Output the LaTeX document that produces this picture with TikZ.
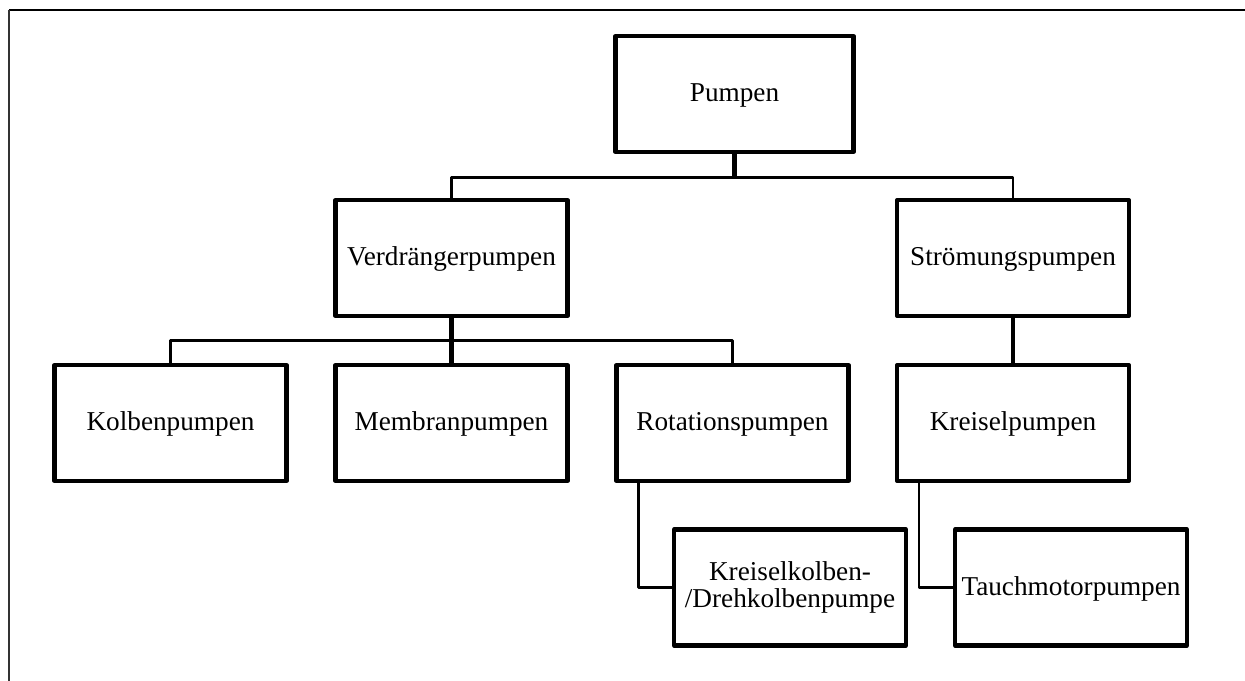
\documentclass[tikz,border=0pt]{standalone}
\usepackage{fontspec}
\setmainfont{Liberation Serif}
\usetikzlibrary{calc}

\begin{document}
\begin{tikzpicture}[
    boxbase/.style={draw, line width=2.3pt, line join=round, minimum width=4.64cm, minimum height=2.32cm,
        inner sep=0pt, align=center, font=\fontsize{15.5}{15.5}\selectfont},
    box/.style={boxbase, text height=0.9em, text depth=0pt},
    bus/.style={line width=1.2pt, line join=round},
    trunk/.style={line width=2.3pt}]
    \useasboundingbox (0,0) rectangle (24.9,-13.62);
    % frame
    \draw[line width=1.2pt] (0.18,-0.2) -- (24.9,-0.2);
    \draw[line width=0.9pt, black!80] (0.18,-0.2) -- (0.18,-13.62);
    % boxes
    \node[box, minimum width=4.76cm] (pumpen) at (14.69,-1.88) {Pumpen};
    \node[box] (verd) at (9.03,-5.16) {Verdrängerpumpen};
    \node[box] (stroem) at (20.26,-5.16) {Strömungspumpen};
    \node[box] (kolben) at (3.41,-8.46) {Kolbenpumpen};
    \node[box] (membran) at (9.03,-8.46) {Membranpumpen};
    \node[box] (rotation) at (14.65,-8.46) {Rotationspumpen};
    \node[box] (kreisel) at (20.26,-8.46) {Kreiselpumpen};
    \node[boxbase] (drehkolben) at (15.8,-11.75) {Kreiselkolben-\\/Drehkolbenpumpe};
    \node[box] (tauch) at (21.42,-11.75) {Tauchmotorpumpen};
    % connectors
    \draw[trunk] (pumpen.south) -- ++(0,-0.47) coordinate (b1);
    \draw[bus] (verd.north) |- (b1) -| (stroem.north);
    \draw[trunk] (verd.south) -- (membran.north);
    \coordinate (b2) at ($(verd.south)!0.5!(membran.north)$);
    \draw[bus] (kolben.north) |- (b2) -| (rotation.north);
    \draw[trunk] (stroem.south) -- (kreisel.north);
    \draw[bus] ([xshift=0.48cm]rotation.south west) |- (drehkolben.west);
    \draw[bus] ([xshift=0.48cm]kreisel.south west) |- (tauch.west);
\end{tikzpicture}
\end{document}
